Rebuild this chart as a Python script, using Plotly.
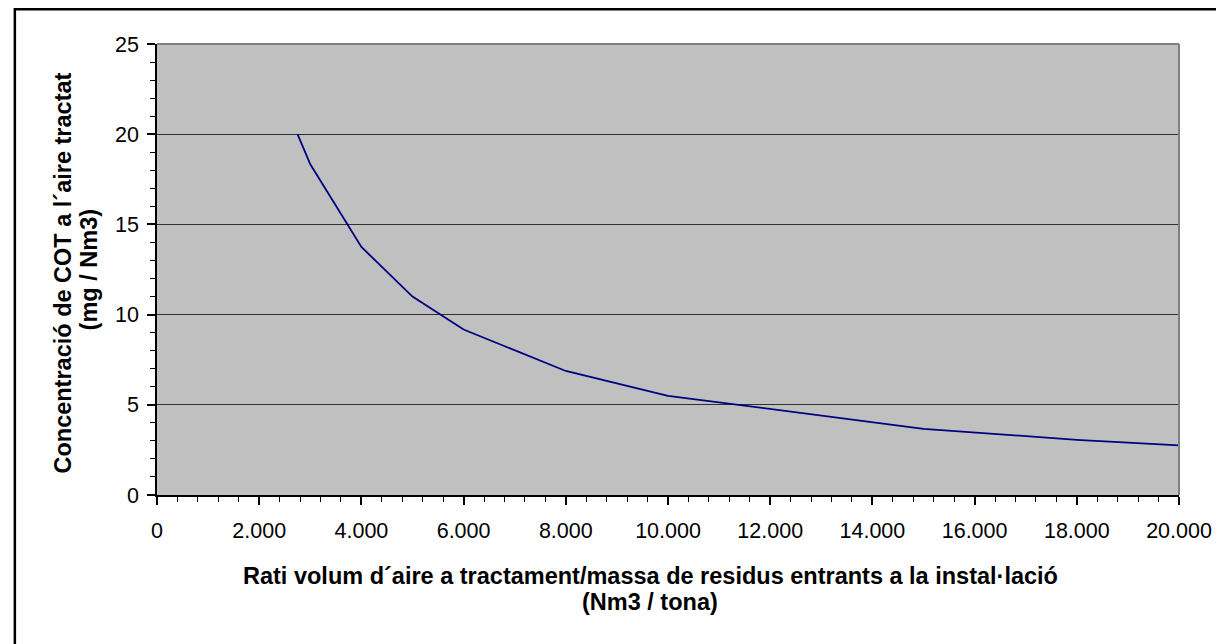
import plotly.graph_objects as go

ratio_nm3_per_tona = [2750, 3000, 4000, 5000, 6000, 8000, 10000, 15000, 18000, 20000]
cot_mg_per_nm3 = [20.0, 18.33, 13.75, 11.0, 9.17, 6.875, 5.5, 3.67, 3.06, 2.75]

x_title_lines = ["Rati volum d´aire a tractament/massa de residus entrants a la instal·lació", "(Nm3 / tona)"]
y_title_lines = ["Concentració de COT a l´aire tractat", "(mg / Nm3)"]

OFF = 8  # page body margin
W, H = 1224 - OFF, 644 - OFF
L, T = 157 - OFF, 44 - OFF
pw, ph = 1028, 451
R, B = W - L - pw, H - T - ph


def px(x):
    return (x - OFF - L) / pw


def py(y):
    return 1 - (y - OFF - T) / ph


fig = go.Figure()
fig.add_trace(go.Scatter(
    x=ratio_nm3_per_tona, y=cot_mg_per_nm3, mode="lines",
    line=dict(color="#000080", width=1.8), showlegend=False, hoverinfo="x+y"))

font = "Liberation Sans, Arial, sans-serif"
tfont = dict(size=23.5, family=font, weight="bold", color="black")
fig.update_layout(
    width=W, height=H,
    margin=dict(l=L, r=R, t=T, b=B, pad=0),
    paper_bgcolor="white", plot_bgcolor="#C0C0C0",
    separators=",.",
    font=dict(family=font, size=21, color="black"),
    xaxis=dict(
        range=[0, 20000], dtick=2000, tickformat=",d",
        showgrid=False, zeroline=False,
        showline=True, linecolor="black", linewidth=1.5,
        ticks="outside", ticklen=8, tickwidth=1.5, tickcolor="black",
        minor=dict(dtick=400, ticks="outside", ticklen=5, tickcolor="black", tickwidth=1, showgrid=False),
        tickfont=dict(size=21.5), ticklabelstandoff=7,
    ),
    yaxis=dict(
        range=[0, 25], dtick=5,
        showgrid=True, gridcolor="#303030", gridwidth=1, zeroline=False,
        showline=True, linecolor="black", linewidth=1.5,
        ticks="outside", ticklen=8, tickwidth=1.5, tickcolor="black",
        minor=dict(dtick=1, ticks="outside", ticklen=5, tickcolor="black", tickwidth=1, showgrid=False),
        tickfont=dict(size=21.5), ticklabelstandoff=4,
    ),
    annotations=[
        dict(text=x_title_lines[0], xref="paper", yref="paper", x=px(653), y=py(576),
             xanchor="center", yanchor="middle", showarrow=False, font=tfont),
        dict(text=x_title_lines[1], xref="paper", yref="paper", x=px(653), y=py(602),
             xanchor="center", yanchor="middle", showarrow=False, font=tfont),
        dict(text=y_title_lines[0], xref="paper", yref="paper", x=px(62), y=py(273),
             xanchor="center", yanchor="middle", showarrow=False, font=tfont, textangle=-90),
        dict(text=y_title_lines[1], xref="paper", yref="paper", x=px(89), y=py(270),
             xanchor="center", yanchor="middle", showarrow=False, font=tfont, textangle=-90),
    ],
    shapes=[
        dict(type="line", xref="paper", yref="paper", x0=0, x1=1, y0=1, y1=1,
             line=dict(color="#808080", width=2), layer="above"),
        dict(type="line", xref="paper", yref="paper", x0=1, x1=1, y0=0, y1=1,
             line=dict(color="#808080", width=2), layer="above"),
        dict(type="rect", xref="paper", yref="paper",
             x0=px(14), x1=px(1260), y0=py(680), y1=py(OFF + 1.2),
             line=dict(color="black", width=2.5), layer="above"),
    ],
)

fig.write_html("out.html")
